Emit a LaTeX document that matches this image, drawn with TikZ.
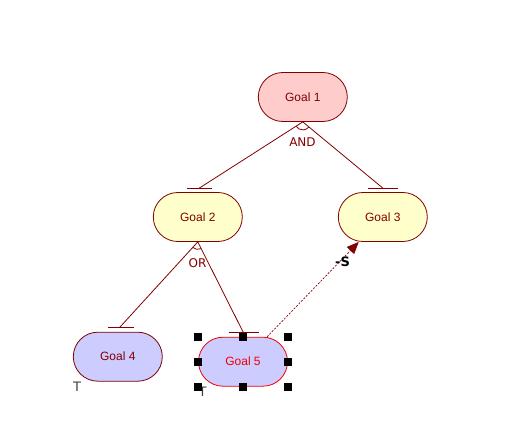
\documentclass[tikz,border=0pt]{standalone}
\usepackage{fontspec}
\setmainfont{Liberation Sans}
\newfontfamily\djv{DejaVu Sans}
\usetikzlibrary{arrows.meta,calc}
\definecolor{dred}{RGB}{128,0,0}
\definecolor{pinkf}{RGB}{255,204,204}
\definecolor{yellf}{RGB}{255,255,204}
\definecolor{bluef}{RGB}{204,204,255}
\definecolor{tgray}{RGB}{64,64,64}
\definecolor{selred}{RGB}{240,0,0}
\tikzset{
  goal/.style={draw=dred, line width=0.8pt, rectangle, rounded corners=24.5pt,
    minimum width=89pt, minimum height=49pt, inner sep=0pt,
    text=dred, font=\fontsize{12}{14}\selectfont},
  link/.style={draw=dred, line width=0.8pt},
  barline/.style={draw=dred, line width=1pt},
  reflab/.style={text=dred, font=\djv\fontsize{12}{14}\selectfont, inner sep=0pt},
  tlab/.style={text=tgray, font=\djv\fontsize{13}{15}\selectfont, inner sep=0pt, anchor=north west},
  handle/.style={fill=black, minimum size=8pt, inner sep=0pt, rectangle}
}
\begin{document}
\begin{tikzpicture}[x=1pt,y=1pt]
\useasboundingbox (0,0) rectangle (531,-443);
% nodes
\node[goal, fill=pinkf] (g1) at (302.8,-97) {Goal 1};
\node[goal, fill=yellf] (g2) at (197.8,-217) {Goal 2};
\node[goal, fill=yellf] (g3) at (382.8,-217) {Goal 3};
\node[goal, fill=bluef] (g4) at (117.8,-356.7) {Goal 4};
\node[goal, fill=bluef, draw=selred, text=selred] (g5) at (243,-361.7) {Goal 5};
% bar end points
\coordinate (b2) at ($(g2.north)+(1.5,4)$);
\coordinate (b3) at ($(g3.north)+(0,4)$);
\coordinate (b4) at ($(g4.north)+(1.5,4)$);
\coordinate (b5) at ($(g5.north)+(0.5,4)$);
% bars
\draw[barline] ($(b2)+(-12.5,0)$) -- ($(b2)+(13,0)$);
\draw[barline] ($(b3)+(-14.5,0)$) -- ($(b3)+(15.5,0)$);
\draw[barline] ($(b4)+(-11.5,0)$) -- ($(b4)+(14.5,0)$);
\draw[barline] ($(b5)+(-15,0)$) -- ($(b5)+(15.5,0)$);
% AND decomposition
\draw[link] (g1.south) -- (b2);
\draw[link] (g1.south) -- (b3);
\draw[link] (g1.south) ++(212.8:8) arc[start angle=212.8, end angle=320.2, radius=8];
\node[reflab] (andl) at (302.5,-141.7) {AND};
% OR decomposition
\draw[link] (g2.south) -- (b4);
\draw[link] (g2.south) -- (b5);
\draw[link] (g2.south) ++(227:7.5) arc[start angle=227, end angle=296, radius=7.5];
\node[reflab] (orl) at (197.5,-262.8) {OR};
% contribution
\draw[draw=dred, line width=0.7pt, dash pattern=on 2pt off 1.5pt,
  -{Triangle[length=12pt,width=10pt]}] (g5) -- (g3);
\node[text=black, font=\djv\bfseries\fontsize{13}{15}\selectfont, inner sep=0pt] (sl) at (342.5,-261.5) {-S};
% T labels
\node[tlab] (t4) at ($(g4.south west)+(0,-0.5)$) {T};
\node[tlab] (t5) at ($(g5.south west)+(0.3,-0.5)$) {T};
% selection handles
\node[handle] (h1) at (g5.west |- g5.north) {};
\node[handle] (h2) at (g5.north) {};
\node[handle] (h3) at (g5.east |- g5.north) {};
\node[handle] (h4) at (g5.west) {};
\node[handle] (h5) at (g5.east) {};
\node[handle] (h6) at (g5.west |- g5.south) {};
\node[handle] (h7) at (g5.south) {};
\node[handle] (h8) at (g5.east |- g5.south) {};
\end{tikzpicture}
\end{document}
